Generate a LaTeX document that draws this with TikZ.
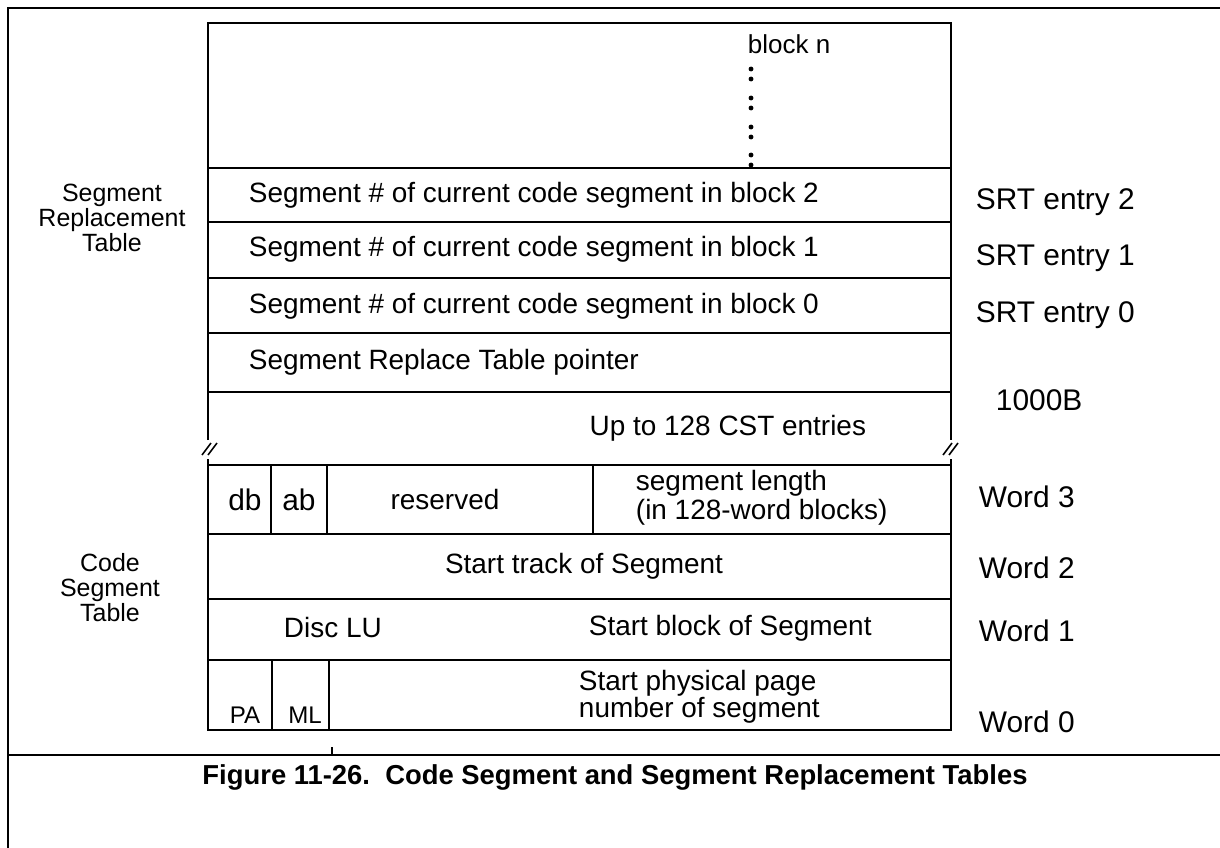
\documentclass[tikz,border=0pt]{standalone}
\usepackage{fontspec}
\setmainfont{Liberation Sans}
\usetikzlibrary{positioning}

\begin{document}
\begin{tikzpicture}[x=0.02cm, y=-0.02cm, line width=1.1pt]

% Define styles
\tikzstyle{field} = [font=\fontsize{15.9}{19}\selectfont, inner sep=0pt, anchor=west]
\tikzstyle{cfield} = [font=\fontsize{15.9}{19}\selectfont, inner sep=0pt]
\tikzstyle{small} = [font=\fontsize{13.7}{16}\selectfont, inner sep=0pt]
\tikzstyle{flag} = [font=\fontsize{17}{20}\selectfont, inner sep=0pt]
\tikzstyle{side} = [font=\fontsize{17}{20}\selectfont, inner sep=0pt, anchor=west]
\tikzstyle{tname} = [font=\fontsize{14.2}{14.2}\selectfont, align=center, inner sep=0pt]
\tikzstyle{caption} = [font=\bfseries\fontsize{15.6}{19}\selectfont, inner sep=0pt]
\tikzstyle{brk} = [line width=0.9pt]

\useasboundingbox (0,0) rectangle (1220,848);

% Frame
\draw (8,848) -- (8,8) -- (1220,8);
\draw (8,755) -- (1220,755);
\draw (332,747) -- (332,755);

% Segment Replacement Table
\draw (208,440) -- (208,23) -- (951,23) -- (951,440);
\foreach \y in {168,222,278,333,392} \draw (208,\y) -- (951,\y);
\foreach \y in {69,79,98,108,127,137,155,165} \fill (751,\y) circle (1.4pt);

% Break marks
\draw [brk] (202,455) -- (211,443);
\draw [brk] (208,455) -- (217,443);
\draw [brk] (943,455) -- (952,443);
\draw [brk] (949,455) -- (958,443);

% Code Segment Table
\draw (208,459) -- (208,730) -- (951,730) -- (951,459);
\foreach \y in {465,534,599,660} \draw (208,\y) -- (951,\y);
\foreach \x in {271,327,593} \draw (\x,465) -- (\x,534);
\foreach \x in {272,329} \draw (\x,660) -- (\x,730);

% Field texts
\node [field, font=\fontsize{14.8}{18}\selectfont] (blockn) at (747,44) {block n};
\node [field] (srt2) at (248,195) {Segment \# of current code segment in block 2};
\node [field] (srt1) at (248,249) {Segment \# of current code segment in block 1};
\node [field] (srt0) at (248,306) {Segment \# of current code segment in block 0};
\node [field] (srtptr) at (248,362) {Segment Replace Table pointer};
\node [field, anchor=east] (cstn) at (867,428) {Up to 128 CST entries};

\node [flag] (db) at (245,500) {db};
\node [flag] (ab) at (299,500) {ab};
\node [cfield] (resv) at (445,500) {reserved};
\node [field] (seglen) at (635,483) {segment length};
\node [field] (seglenb) at (635,512) {(in 128-word blocks)};
\node [cfield] (track) at (584,566) {Start track of Segment};
\node [field] (disc) at (283,628) {Disc LU};
\node [field] (sblock) at (588,628) {Start block of Segment};
\node [small] (pa) at (245,715) {PA};
\node [small] (ml) at (305,715) {ML};
\node [field] (spage) at (578,683) {Start physical page};
\node [field] (spageb) at (578,710) {number of segment};

% Side labels
\node [tname] (srt) at (112,218) {Segment\\Replacement\\Table};
\node [tname] (cst) at (110,588) {Code\\Segment\\Table};
\node [side] (entry2) at (975,202) {SRT entry 2};
\node [side] (entry1) at (975,258) {SRT entry 1};
\node [side] (entry0) at (975,315) {SRT entry 0};
\node [side] (base) at (995,400) {1000B};
\node [side] (word3) at (978,497) {Word 3};
\node [side] (word2) at (978,568) {Word 2};
\node [side] (word1) at (978,631) {Word 1};
\node [side] (word0) at (978,722) {Word 0};

% Caption
\node [caption] (cap) at (615,777) {Figure 11-26.\ \ Code Segment and Segment Replacement Tables};

\end{tikzpicture}
\end{document}
